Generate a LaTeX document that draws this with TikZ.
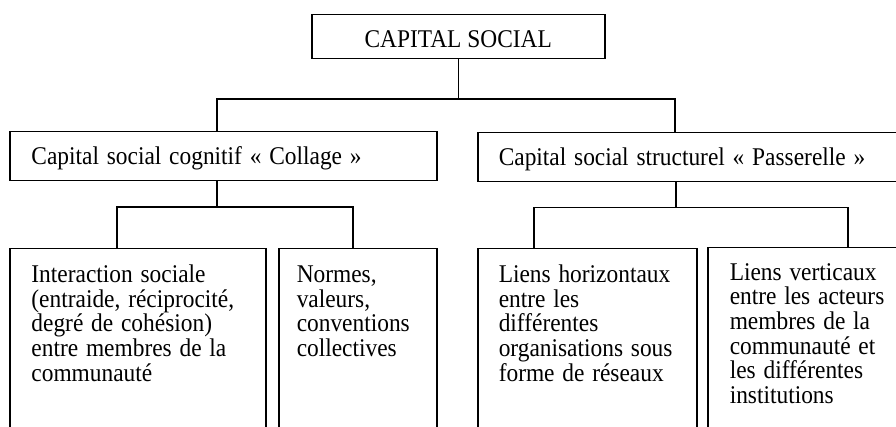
\documentclass[tikz,border=0pt]{standalone}
\usepackage{graphicx}
\usepackage{fontspec}
\setmainfont{Liberation Serif}
\newcommand{\oneline}[1]{\scalebox{1}[1.09]{#1}}
\begin{document}
\begin{tikzpicture}[x=1pt,y=-1pt,
  box/.style={draw, line width=1.5pt, anchor=north west, inner ysep=0pt,
    align=left, font=\fontsize{23.4}{24.7}\selectfont},
  tallbox/.style={box, text height=33.7pt, text depth=190pt},
  link/.style={line width=1.5pt, line join=miter}]
\useasboundingbox (0,0) rectangle (896,427);
\clip (0,0) rectangle (896,427);

\node[box, minimum width=293pt, inner xsep=0pt, text height=32.7pt,
  text depth=11.3pt, align=center] (top) at (311,14) {\oneline{CAPITAL SOCIAL}};

\node[box, text width=383.6pt, inner xsep=21.7pt, text height=33pt,
  text depth=16pt] (L2) at (9,131) {\oneline{Capital social cognitif «~Collage~»}};
\node[box, text width=418pt, inner xsep=21pt, text height=33pt,
  text depth=16pt] (R2) at (477,132) {\oneline{Capital social structurel «~Passerelle~»}};

\node[tallbox, text width=212.6pt, inner xsep=21.7pt] (A) at (9,248)
  {\oneline{Interaction sociale}\\ \oneline{(entraide, réciprocité,}\\
   \oneline{degré de cohésion)}\\ \oneline{entre membres de la}\\
   \oneline{communauté}};
\node[tallbox, text width=122pt, inner xsep=18pt] (B) at (278,248)
  {\oneline{Normes,}\\ \oneline{valeurs,}\\ \oneline{conventions}\\
   \oneline{collectives}};
\node[tallbox, text width=177pt, inner xsep=21pt] (C) at (477,248)
  {\oneline{Liens horizontaux}\\ \oneline{entre les}\\
   \oneline{différentes}\\ \oneline{organisations sous}\\
   \oneline{forme de réseaux}};
\node[tallbox, text width=186pt, inner xsep=22pt, text height=32.6pt] (D)
  at (707,246.7)
  {\oneline{Liens verticaux}\\ \oneline{entre les acteurs}\\
   \oneline{membres de la}\\ \oneline{communauté et}\\
   \oneline{les différentes}\\ \oneline{institutions}};

\coordinate (h1L) at (217,99);
\coordinate (h1R) at (675,99);
\coordinate (h2L) at (117,207);
\coordinate (h2R) at (353,207);
\coordinate (v3) at (676,207.5);
\coordinate (h3L) at (534,207.5);
\coordinate (h3R) at (848,207.5);

\draw[link] (top.south) -- (top.south |- h1L);
\draw[link] (h1L |- L2.north) -- (h1L) -- (h1R) -- (h1R |- R2.north);
\draw[link] (h1L |- L2.south) -- (h1L |- h2L);
\draw[link] (h2L |- A.north) -- (h2L) -- (h2R) -- (h2R |- B.north);
\draw[link] (v3 |- R2.south) -- (v3);
\draw[link] (h3L |- C.north) -- (h3L) -- (h3R) -- (h3R |- D.north);
\end{tikzpicture}
\end{document}
